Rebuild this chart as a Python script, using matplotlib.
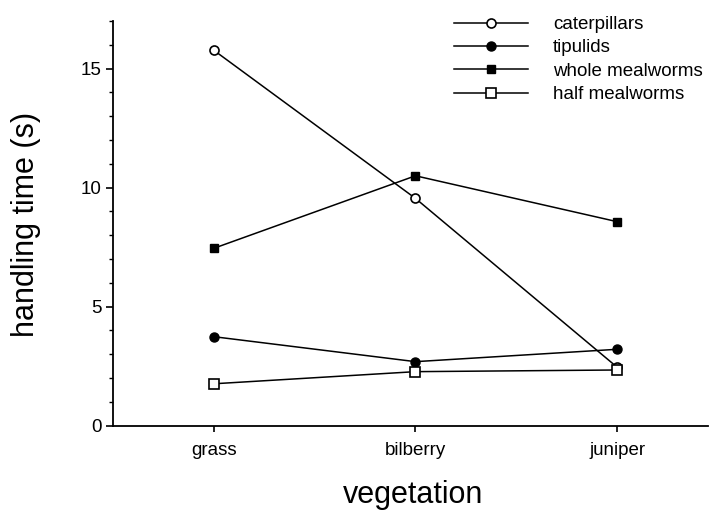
import matplotlib
matplotlib.use("Agg")
import matplotlib.pyplot as plt
from matplotlib.ticker import MultipleLocator

plt.rcParams['font.family'] = ['Liberation Sans', 'DejaVu Sans']

vegetation = ["grass", "bilberry", "juniper"]
caterpillars = [15.78, 9.55, 2.45]
tipulids = [3.74, 2.69, 3.21]
whole_mealworms = [7.45, 10.5, 8.57]
half_mealworms = [1.76, 2.27, 2.34]

fig = plt.figure(figsize=(7.11, 5.12), dpi=100)
ax = fig.add_axes([0.1585, 0.1686, 0.8375, 0.7902])

x = list(range(len(vegetation)))
lw = 1.1
ms = 6.5
ax.plot(x, caterpillars, '-o', color='black', lw=lw, ms=ms, mfc='white', mec='black', mew=1.2, label='caterpillars', zorder=3)
ax.plot(x, tipulids, '-o', color='black', lw=lw, ms=ms, mfc='black', mec='black', label='tipulids', zorder=3)
ax.plot(x, whole_mealworms, '-s', color='black', lw=lw, ms=6, mfc='black', mec='black', label='whole mealworms', zorder=3)
ax.plot(x, half_mealworms, '-s', color='black', lw=lw, ms=6.5, mfc='white', mec='black', mew=1.2, label='half mealworms', zorder=4)

ax.set_xlim(-0.5, 2.45)
ax.set_ylim(0, 17)
ax.set_xticks(x)
ax.set_xticklabels(vegetation, fontsize=13.5)
ax.set_yticks([0, 5, 10, 15])
ax.yaxis.set_minor_locator(MultipleLocator(1))
ax.tick_params(axis='y', which='major', labelsize=13.5, length=5, width=1.2, pad=3)
ax.tick_params(axis='y', which='minor', length=3, width=1.0)
ax.tick_params(axis='x', which='major', length=4, width=1.2, pad=8)

for s in ['top', 'right']:
    ax.spines[s].set_visible(False)
ax.spines['left'].set_linewidth(1.3)
ax.spines['bottom'].set_linewidth(1.3)

ax.set_ylabel('handling time (s)', fontsize=22)
ax.yaxis.set_label_coords(-0.121, 0.4975)
ax.set_xlabel('vegetation', fontsize=22)
ax.xaxis.set_label_coords(0.504, -0.134)

leg = ax.legend(loc='upper left', bbox_to_anchor=(454 / 711, 1 - 16 / 512),
                bbox_transform=fig.transFigure, frameon=False, fontsize=13.5,
                handlelength=3.95, handletextpad=1.33, labelspacing=0.33,
                borderpad=0, borderaxespad=0)

fig.savefig('out.png', dpi=100)
